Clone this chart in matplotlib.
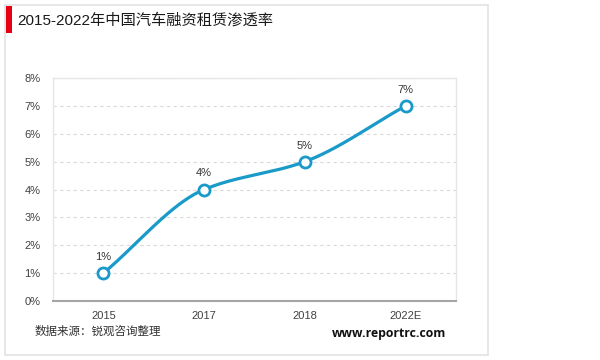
import numpy as np
import matplotlib
matplotlib.use("Agg")
import matplotlib.pyplot as plt
from matplotlib.patches import Rectangle

categories = ["2015", "2017", "2018", "2022E"]
values = [1, 4, 5, 7]
yticks = [0, 1, 2, 3, 4, 5, 6, 7, 8]
title = "2015-2022年中国汽车融资租赁渗透率"
source = "数据来源：锐观咨询整理"
site = "www.reportrc.com"

FONT = ["Liberation Sans", "Noto Sans CJK SC", "DejaVu Sans"]
plt.rcParams["font.family"] = FONT
LINE = "#1a9ac8"

W, H = 600, 360
fig = plt.figure(figsize=(6, 3.6), dpi=100)

def fx(px):
    return px / W
def fy(py):
    return 1 - py / H

# card border and decorations
fig.add_artist(Rectangle((fx(5), fy(355)), fx(488 - 5), (355 - 5) / H, fill=False,
                         edgecolor="#e3e3e3", lw=1.2))
fig.add_artist(Rectangle((fx(6), fy(33)), fx(6), 27 / H, color="#e60012", lw=0))
fig.text(fx(17), fy(20), title, fontsize=11, color="#1a1a1a", va="center", ha="left",
         family=FONT)
fig.text(fx(35), fy(332), source, fontsize=8.3, color="#333333", va="center", ha="left",
         family=FONT)
fig.text(fx(446), fy(333), site, fontsize=8.8, color="#111111", va="center", ha="right",
         fontweight="bold", family=["Open Sans", "DejaVu Sans"])

ax = fig.add_axes([fx(53), fy(301), fx(456 - 53), (301 - 78) / H])
x = np.arange(len(categories))

# monotone cubic (Fritsch-Carlson) smoothing through the data points
xs = x.astype(float)
ys = np.array(values, dtype=float)
d = np.diff(ys) / np.diff(xs)
m = np.zeros_like(ys)
m[0], m[-1] = d[0], d[-1]
for i in range(1, len(ys) - 1):
    if d[i - 1] * d[i] > 0:
        m[i] = 2 / (1 / d[i - 1] + 1 / d[i])
cx, cy = [], []
for i in range(len(xs) - 1):
    t = np.linspace(0, 1, 60)
    h = xs[i + 1] - xs[i]
    h00 = 2 * t**3 - 3 * t**2 + 1
    h10 = t**3 - 2 * t**2 + t
    h01 = -2 * t**3 + 3 * t**2
    h11 = t**3 - t**2
    cx.extend(xs[i] + t * h)
    cy.extend(h00 * ys[i] + h10 * h * m[i] + h01 * ys[i + 1] + h11 * h * m[i + 1])

ax.plot(cx, cy, color=LINE, lw=2.3, solid_capstyle="round", zorder=3)
ax.plot(x, values, "o", ms=8, mfc="white", mec=LINE, mew=2, zorder=4)
for xi, v in zip(x, values):
    ax.annotate(f"{v}%", (xi, v), xytext=(0, 8), textcoords="offset points",
                ha="center", va="bottom", fontsize=8, color="#333333")

ax.set_xlim(-0.5, len(categories) - 0.5)
ax.set_ylim(0, 8)
ax.set_xticks(x)
ax.set_xticklabels(categories)
ax.set_yticks(yticks)
ax.set_yticklabels([f"{t}%" for t in yticks])
ax.tick_params(axis="both", length=0, labelsize=8, colors="#404040")
ax.tick_params(axis="x", pad=7)
ax.tick_params(axis="y", pad=9)
ax.grid(axis="y", color="#d9d9d9", ls=(0, (3, 3)), lw=0.8)
ax.set_axisbelow(True)
for s in ["left", "top", "right"]:
    ax.spines[s].set_color("#e6e6e6")
    ax.spines[s].set_linewidth(1)
ax.spines["bottom"].set_color("#a6a6a6")
ax.spines["bottom"].set_linewidth(1.5)

fig.savefig("out.png", dpi=100)
